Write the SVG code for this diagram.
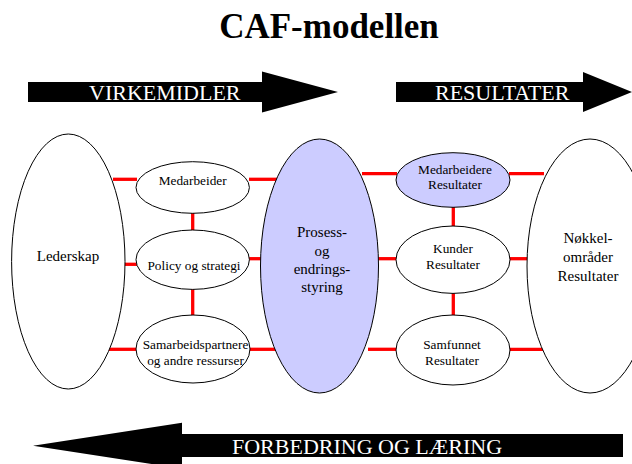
<svg xmlns="http://www.w3.org/2000/svg" width="632" height="464" viewBox="0 0 632 464">
<style>
text{font-family:'Liberation Serif','Times New Roman',Times,serif;font-weight:normal;font-style:normal}
.t{fill:#000;text-anchor:middle}
.s{font-size:13.3px}
.b{font-size:15px}
.w{fill:#fff;font-size:22px}
.e{stroke:#000;stroke-width:1}
.wf{fill:#fff}
.lf{fill:#ccccff}
.c line{stroke:#ff0000;stroke-width:3.3}
</style>
<rect width="632" height="464" fill="#fff"/>
<text x="329" y="38" style="font-size:35px;font-weight:bold" text-anchor="middle">CAF-modellen</text>
<g id="arrow-virkemidler">
<polygon points="28,82 262,82 262,71.5 338,92 262,112.5 262,102 28,102" fill="#000"/>
<text class="w" x="89" y="100">VIRKEMIDLER</text>
</g>
<g id="arrow-resultater">
<polygon points="396,82 583,82 583,72 632,92 583,112 583,102 396,102" fill="#000"/>
<text class="w" x="435" y="100">RESULTATER</text>
</g>
<g id="arrow-forbedring">
<polygon points="623,434 182,434 182,422.7 33,445.7 182,468.7 182,457 623,457" fill="#000"/>
<text class="w" x="232" y="454">FORBEDRING OG LÆRING</text>
</g>
<g id="connectors" class="c">
<line x1="113" y1="179.3" x2="137" y2="179.3"/>
<line x1="249" y1="179.3" x2="278" y2="179.3"/>
<line x1="192.7" y1="212" x2="192.7" y2="231"/>
<line x1="120" y1="264.3" x2="137" y2="264.3"/>
<line x1="249" y1="258.7" x2="263" y2="258.7"/>
<line x1="192.7" y1="288" x2="192.7" y2="316"/>
<line x1="108.3" y1="349.3" x2="137" y2="349.3"/>
<line x1="249" y1="349.3" x2="278" y2="349.3"/>
<line x1="362" y1="173.7" x2="397" y2="173.7"/>
<line x1="509" y1="173.7" x2="544" y2="173.7"/>
<line x1="453.3" y1="206" x2="453.3" y2="227"/>
<line x1="376" y1="258.7" x2="397" y2="258.7"/>
<line x1="509" y1="258.7" x2="528" y2="258.7"/>
<line x1="453.3" y1="292" x2="453.3" y2="316"/>
<line x1="368" y1="349.3" x2="397" y2="349.3"/>
<line x1="509" y1="349.3" x2="544" y2="349.3"/>
</g>
<g id="lederskap">
<ellipse class="e wf" cx="68.3" cy="261.5" rx="56.7" ry="127.5"/>
<text class="t b" x="68" y="261">Lederskap</text>
</g>
<g id="medarbeider">
<ellipse class="e wf" cx="192.7" cy="187.5" rx="56.7" ry="25.8"/>
<text class="t s" x="192.7" y="185">Medarbeider</text>
</g>
<g id="policy">
<ellipse class="e wf" cx="192.7" cy="259.7" rx="56.7" ry="29.7"/>
<text class="t s" x="194" y="270">Policy og strategi</text>
</g>
<g id="samarbeid">
<ellipse class="e wf" cx="193" cy="349" rx="57" ry="34"/>
<text class="t s" x="195.5" y="349">Samarbeidspartnere</text>
<text class="t s" x="195.5" y="364.5">og andre ressurser</text>
</g>
<g id="prosess">
<ellipse class="e lf" cx="319.5" cy="266" rx="59" ry="127"/>
<text class="t b" x="322" y="237">Prosess-</text>
<text class="t b" x="322" y="255.5">og</text>
<text class="t b" x="322" y="273.5">endrings-</text>
<text class="t b" x="322" y="292">styring</text>
</g>
<g id="medarbeidere-resultater">
<ellipse class="e lf" cx="453" cy="180" rx="57" ry="27.3"/>
<text class="t s" x="455" y="173.5">Medarbeidere</text>
<text class="t s" x="455" y="189">Resultater</text>
</g>
<g id="kunder-resultater">
<ellipse class="e wf" cx="453" cy="259.7" rx="57" ry="33.7"/>
<text class="t s" x="453" y="253">Kunder</text>
<text class="t s" x="453" y="269">Resultater</text>
</g>
<g id="samfunnet-resultater">
<ellipse class="e wf" cx="453" cy="350" rx="57" ry="35"/>
<text class="t s" x="452" y="349">Samfunnet</text>
<text class="t s" x="452" y="364.5">Resultater</text>
</g>
<g id="nokkel">
<ellipse class="e wf" cx="590" cy="266" rx="63" ry="127"/>
<text class="t b" x="588" y="243">Nøkkel-</text>
<text class="t b" x="588" y="262">områder</text>
<text class="t b" x="588" y="281">Resultater</text>
</g>
</svg>
